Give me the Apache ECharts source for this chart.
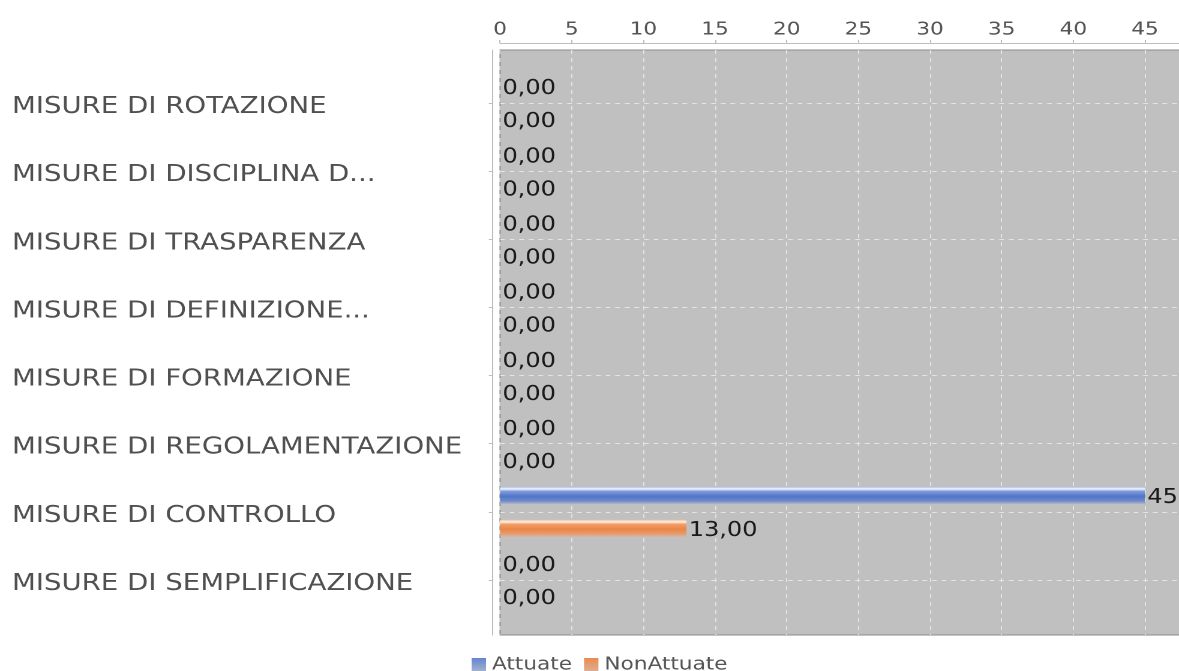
<!DOCTYPE html>
<html>
<head>
<meta charset="utf-8">
<script src="https://cdn.jsdelivr.net/npm/echarts@6/dist/echarts.min.js"></script>
<style>
  html, body { margin: 0; padding: 0; width: 1179px; height: 671px; overflow: hidden; background: #ffffff; }
  #chart { width: 1100px; height: 671px; transform: scaleX(1.2); transform-origin: 0 0; }
</style>
</head>
<body>
<div id="chart"></div>
<script>
const categories = [
  'MISURE DI ROTAZIONE',
  'MISURE DI DISCIPLINA D...',
  'MISURE DI TRASPARENZA',
  'MISURE DI DEFINIZIONE...',
  'MISURE DI FORMAZIONE',
  'MISURE DI REGOLAMENTAZIONE',
  'MISURE DI CONTROLLO',
  'MISURE DI SEMPLIFICAZIONE'
];
const seriesNames = ['Attuate', 'NonAttuate'];
const attuate = [0, 0, 0, 0, 0, 0, 45, 0];
const nonAttuate = [0, 0, 0, 0, 0, 0, 13, 0];
const xTicks = { min: 0, max: 50, interval: 5 };

const FONT = 'DejaVu Sans';
const fmt = v => Number(v).toFixed(2).replace('.', ',');
const G = echarts.graphic.LinearGradient;

const blueGrad = new G(0, 0, 0, 1, [
  { offset: 0, color: '#a9bdea' },
  { offset: 0.12, color: '#f5f8ff' },
  { offset: 0.26, color: '#7f9bdd' },
  { offset: 0.55, color: '#5075c8' },
  { offset: 0.82, color: '#6f89c8' },
  { offset: 1, color: '#aab4cc' }
]);
const orangeGrad = new G(0, 0, 0, 1, [
  { offset: 0, color: '#f6bf9c' },
  { offset: 0.12, color: '#fff3ea' },
  { offset: 0.26, color: '#f39d66' },
  { offset: 0.55, color: '#ea8646' },
  { offset: 0.82, color: '#e69c6e' },
  { offset: 1, color: '#d6b6a4' }
]);
const blueIcon = new G(0, 0, 0, 1, [
  { offset: 0, color: '#6386d4' }, { offset: 1, color: '#a7b3cc' }
]);
const orangeIcon = new G(0, 0, 0, 1, [
  { offset: 0, color: '#ee8a4c' }, { offset: 1, color: '#d9b29c' }
]);

const chart = echarts.init(document.getElementById('chart'), null, { devicePixelRatio: 2 });
const gridLeft = 416.7, gridWidth = 597.2;

const labelCfg = {
  show: true,
  position: 'right',
  distance: 2,
  offset: [0, 2.5],
  formatter: p => fmt(p.value),
  color: '#1a1a1a',
  fontFamily: FONT,
  fontSize: 20
};

chart.setOption({
  animation: false,
  textStyle: { fontFamily: FONT },
  grid: [
    { left: gridLeft, width: gridWidth, top: 50, bottom: 36, show: true,
      backgroundColor: '#c0c0c0', borderColor: '#8a8a8a', borderWidth: 1 },
    { left: gridLeft, width: gridWidth, top: 103, bottom: 91 }
  ],
  xAxis: [
    { gridIndex: 0, type: 'value', position: 'top', offset: 7,
      min: xTicks.min, max: xTicks.max, interval: xTicks.interval,
      axisLine: { show: true, onZero: false, lineStyle: { color: '#bdbdbd', width: 1 } },
      axisTick: { show: true, length: 3, lineStyle: { color: '#bdbdbd' } },
      axisLabel: { color: '#555555', fontSize: 18, fontFamily: FONT, margin: 4 },
      splitLine: { show: true, lineStyle: { color: '#e4e4e4', type: [4, 4], width: 1 } }
    },
    { gridIndex: 1, type: 'value', min: xTicks.min, max: xTicks.max, interval: xTicks.interval, show: false }
  ],
  yAxis: [
    { gridIndex: 0, type: 'value', min: 0, max: 1, position: 'left', offset: 6,
      axisLine: { show: true, onZero: false, lineStyle: { color: '#bdbdbd', width: 1 } },
      axisTick: { show: false }, axisLabel: { show: false }, splitLine: { show: false }
    },
    { gridIndex: 1, type: 'category', data: categories, inverse: true, boundaryGap: false,
      position: 'left', offset: 6,
      axisLine: { show: false, onZero: false },
      axisTick: { show: true, length: 3.4, lineStyle: { color: '#bdbdbd' } },
      axisLabel: { align: 'left', verticalAlign: 'top', lineHeight: 8, margin: 400.7,
                   color: '#505050', fontSize: 23, fontFamily: FONT },
      splitLine: { show: true, lineStyle: { color: '#e4e4e4', type: [4, 4], width: 1 } }
    }
  ],
  legend: {
    data: [
      { name: seriesNames[0], itemStyle: { color: blueIcon } },
      { name: seriesNames[1], itemStyle: { color: orangeIcon } }
    ],
    left: 388, top: 651,
    itemWidth: 12, itemHeight: 14, itemGap: 10,
    icon: 'rect',
    textStyle: { color: '#555555', fontSize: 18, fontFamily: FONT }
  },
  series: [
    { name: seriesNames[0], type: 'bar', xAxisIndex: 1, yAxisIndex: 1, data: attuate,
      barWidth: 17, barGap: '94%', itemStyle: { color: blueGrad }, label: labelCfg },
    { name: seriesNames[1], type: 'bar', xAxisIndex: 1, yAxisIndex: 1, data: nonAttuate,
      barWidth: 17, barGap: '94%', itemStyle: { color: orangeGrad }, label: labelCfg }
  ]
});
</script>
</body>
</html>
